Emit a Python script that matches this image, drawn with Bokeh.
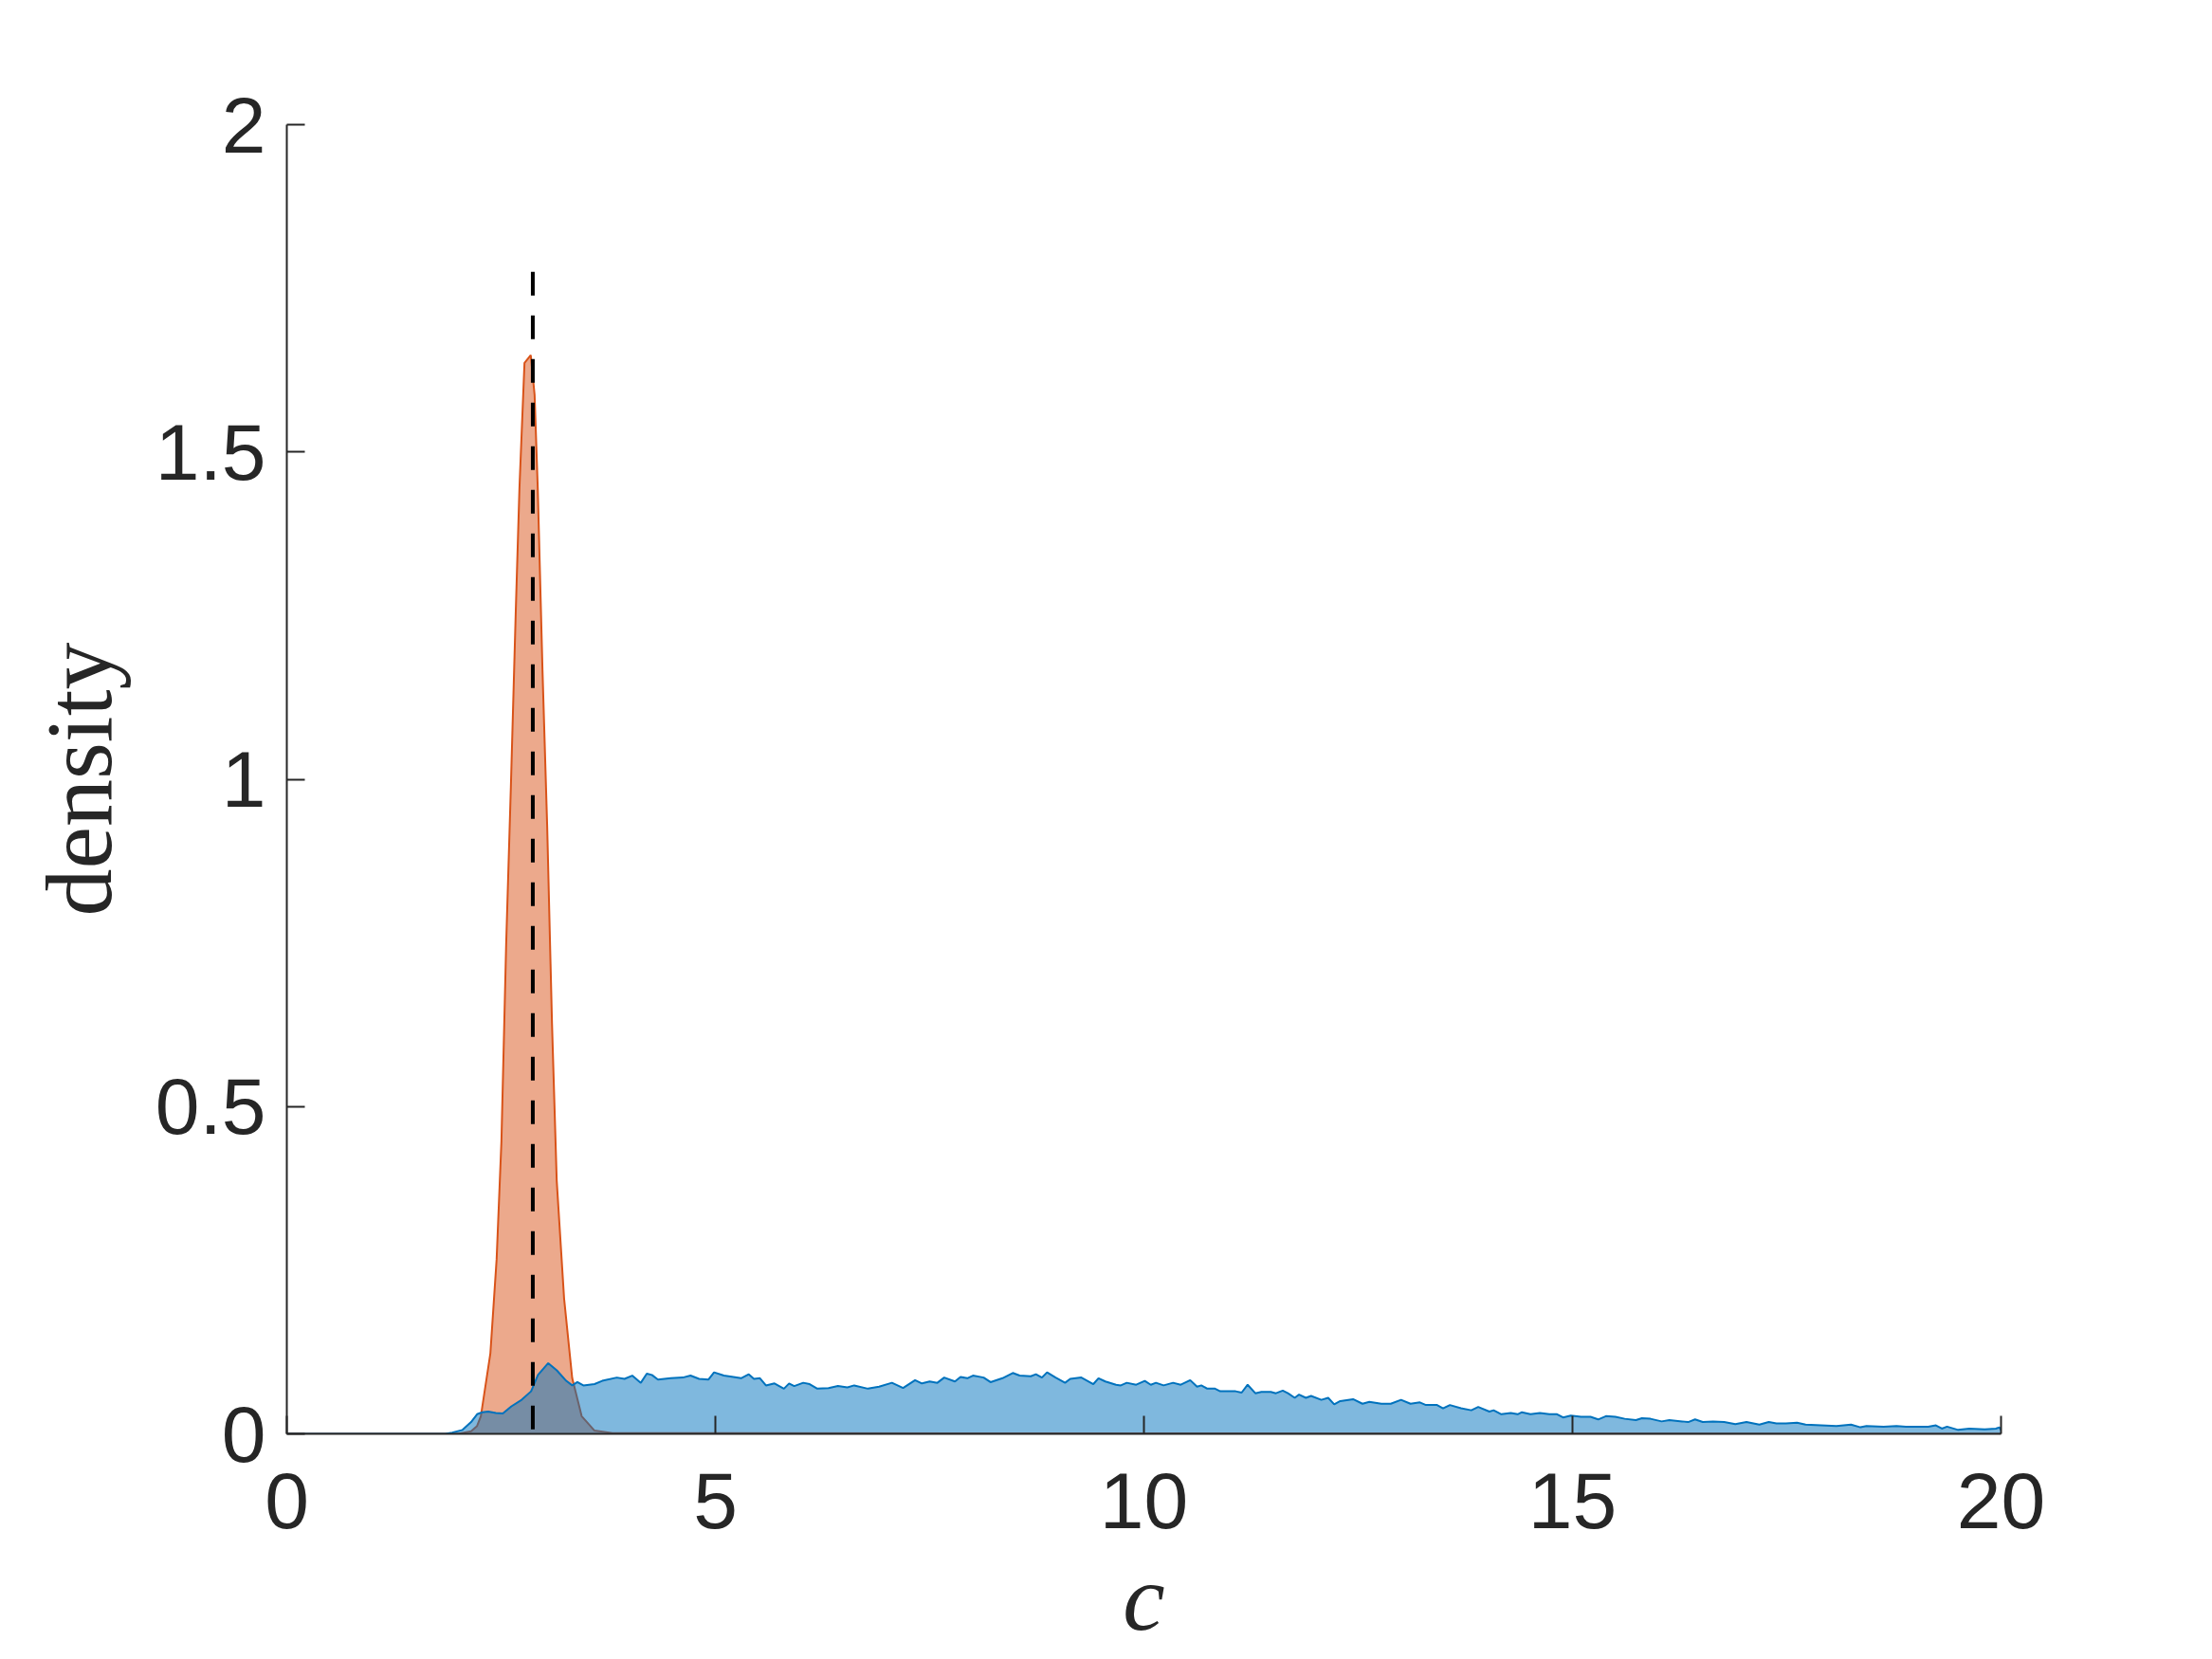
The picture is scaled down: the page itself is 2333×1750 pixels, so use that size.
from bokeh.plotting import figure
from bokeh.models import FixedTicker, CustomJSTickFormatter
from bokeh.embed import file_html
from bokeh.resources import INLINE

# ---- data: (c, density) ----
orange_density = [
    (0.0, 0.0), (2.0, 0.0), (2.15, 0.004), (2.22, 0.012), (2.264, 0.027),
    (2.375, 0.123), (2.448, 0.267), (2.504, 0.447), (2.559, 0.747), (2.614, 0.988),
    (2.67, 1.251), (2.714, 1.444), (2.773, 1.636), (2.846, 1.648), (2.891, 1.587),
    (2.928, 1.444), (2.983, 1.167), (3.038, 0.927), (3.094, 0.627), (3.149, 0.387),
    (3.235, 0.207), (3.33, 0.085), (3.44, 0.027), (3.59, 0.005), (3.8, 0.001),
    (20.0, 0.0),
]

blue_density = [
    (0.0, 0.0), (1.85, 0.0), (1.93, 0.002), (2.05, 0.006), (2.15, 0.018),
    (2.22, 0.030), (2.28, 0.033), (2.35, 0.034), (2.44, 0.032), (2.52, 0.031),
    (2.62, 0.042), (2.74, 0.052), (2.85, 0.065), (2.93, 0.090), (3.05, 0.108),
    (3.15, 0.097), (3.26, 0.081), (3.33, 0.074), (3.39, 0.079), (3.46, 0.074),
    (3.59, 0.076), (3.68, 0.081), (3.85, 0.086), (3.94, 0.084), (4.03, 0.089),
    (4.13, 0.078), (4.20, 0.092), (4.26, 0.090), (4.33, 0.083), (4.48, 0.085),
    (4.62, 0.086), (4.71, 0.089), (4.81, 0.084), (4.92, 0.083), (4.985, 0.094),
    (5.10, 0.089), (5.21, 0.087), (5.30, 0.085), (5.39, 0.091), (5.45, 0.084),
    (5.52, 0.085), (5.59, 0.074), (5.69, 0.077), (5.80, 0.069), (5.86, 0.077),
    (5.92, 0.073), (6.025, 0.078), (6.10, 0.076), (6.19, 0.069), (6.32, 0.070),
    (6.43, 0.073), (6.54, 0.071), (6.62, 0.074), (6.78, 0.069), (6.91, 0.072),
    (7.06, 0.078), (7.19, 0.070), (7.33, 0.082), (7.41, 0.077), (7.50, 0.080),
    (7.59, 0.078), (7.67, 0.086), (7.795, 0.080), (7.86, 0.087), (7.94, 0.085),
    (8.005, 0.089), (8.13, 0.086), (8.21, 0.079), (8.35, 0.085), (8.47, 0.093),
    (8.55, 0.089), (8.68, 0.088), (8.74, 0.091), (8.81, 0.086), (8.87, 0.094),
    (8.97, 0.086), (9.08, 0.078), (9.14, 0.084), (9.27, 0.086), (9.41, 0.076),
    (9.47, 0.085), (9.55, 0.080), (9.675, 0.075), (9.73, 0.074), (9.80, 0.078),
    (9.91, 0.075), (10.01, 0.081), (10.08, 0.075), (10.14, 0.078), (10.23, 0.074),
    (10.34, 0.078), (10.43, 0.075), (10.54, 0.082), (10.62, 0.072), (10.67, 0.074),
    (10.74, 0.069), (10.83, 0.069), (10.89, 0.065), (11.07, 0.065), (11.14, 0.063),
    (11.21, 0.075), (11.30, 0.062), (11.37, 0.064), (11.48, 0.064), (11.54, 0.062),
    (11.62, 0.066), (11.68, 0.062), (11.76, 0.055), (11.81, 0.060), (11.89, 0.055),
    (11.95, 0.058), (12.07, 0.052), (12.15, 0.055), (12.22, 0.045), (12.29, 0.050),
    (12.44, 0.053), (12.55, 0.046), (12.63, 0.049), (12.77, 0.046), (12.88, 0.046),
    (13.0, 0.052), (13.11, 0.046), (13.22, 0.048), (13.29, 0.044), (13.42, 0.044),
    (13.49, 0.039), (13.57, 0.044), (13.70, 0.039), (13.82, 0.036), (13.90, 0.041),
    (14.03, 0.034), (14.08, 0.036), (14.17, 0.030), (14.28, 0.032), (14.36, 0.030),
    (14.41, 0.033), (14.51, 0.030), (14.62, 0.032), (14.73, 0.030), (14.82, 0.030),
    (14.89, 0.025), (14.98, 0.028), (15.10, 0.026), (15.21, 0.026), (15.30, 0.022),
    (15.39, 0.027), (15.50, 0.026), (15.61, 0.023), (15.74, 0.021), (15.81, 0.024),
    (15.91, 0.023), (16.04, 0.019), (16.13, 0.021), (16.28, 0.019), (16.35, 0.018),
    (16.43, 0.022), (16.52, 0.018), (16.64, 0.019), (16.77, 0.018), (16.90, 0.015),
    (17.03, 0.018), (17.18, 0.014), (17.29, 0.018), (17.38, 0.016), (17.49, 0.016),
    (17.62, 0.017), (17.72, 0.014), (17.90, 0.013), (18.08, 0.012), (18.25, 0.014),
    (18.36, 0.010), (18.43, 0.012), (18.63, 0.011), (18.78, 0.012), (18.89, 0.011),
    (19.04, 0.011), (19.15, 0.011), (19.24, 0.013), (19.31, 0.008), (19.37, 0.011),
    (19.50, 0.006), (19.63, 0.008), (19.81, 0.007), (19.94, 0.008), (19.98, 0.010),
    (20.0, 0.006),
]

true_c = 2.87          # dashed reference line position
true_line_top = 1.775  # dashed reference line height

x_ticks = [0, 5, 10, 15, 20]
y_ticks = [0, 0.5, 1, 1.5, 2]
x_label = "c"
y_label = "density"

orange_c = [pt[0] for pt in orange_density]
orange_d = [pt[1] for pt in orange_density]
blue_c = [pt[0] for pt in blue_density]
blue_d = [pt[1] for pt in blue_density]

ORANGE = "#D95319"
BLUE = "#0072BD"
AXIS = "#262626"

p = figure(
    width=2317, height=1748,
    x_range=(0, 20), y_range=(0, 2),
    output_backend="svg", toolbar_location=None,
    min_border_left=302, min_border_top=131,
    min_border_right=207, min_border_bottom=236,
)
p.outline_line_color = None
p.grid.visible = False
p.background_fill_color = "white"
p.border_fill_color = "white"

p.varea(x=orange_c, y1=0, y2=orange_d, fill_color=ORANGE, fill_alpha=0.5)
p.line(orange_c, orange_d, line_color=ORANGE, line_width=2)
p.varea(x=blue_c, y1=0, y2=blue_d, fill_color=BLUE, fill_alpha=0.5)
p.line(blue_c, blue_d, line_color=BLUE, line_width=2)
# drawn from the top down so the dash pattern starts at the line's top end
p.line([true_c, true_c], [true_line_top, 0], line_color="black",
       line_width=4, line_dash="25 21")

fmt = CustomJSTickFormatter(code="return String(Number(tick.toFixed(3)));")

for ax, ticks in ((p.xaxis[0], x_ticks), (p.yaxis[0], y_ticks)):
    ax.ticker = FixedTicker(ticks=ticks)
    ax.formatter = fmt
    ax.minor_tick_line_color = None
    ax.major_tick_in = 19
    ax.major_tick_out = 0
    ax.major_tick_line_color = AXIS
    ax.major_tick_line_width = 2
    ax.axis_line_color = AXIS
    ax.axis_line_width = 2
    ax.major_label_text_font = "Liberation Sans"
    ax.major_label_text_font_size = "84px"
    ax.major_label_text_color = AXIS
    ax.axis_label_text_font = "Liberation Serif"
    ax.axis_label_text_font_size = "100px"
    ax.axis_label_text_color = AXIS

p.xaxis.axis_label = x_label
p.xaxis.axis_label_text_font_style = "italic"
p.xaxis.major_label_standoff = 41
p.xaxis.axis_label_standoff = 15
p.yaxis.axis_label = y_label
p.yaxis.axis_label_text_font_style = "normal"
p.yaxis.major_label_standoff = 22
p.yaxis.axis_label_standoff = 22

open("out.html", "w").write(file_html(p, INLINE))
